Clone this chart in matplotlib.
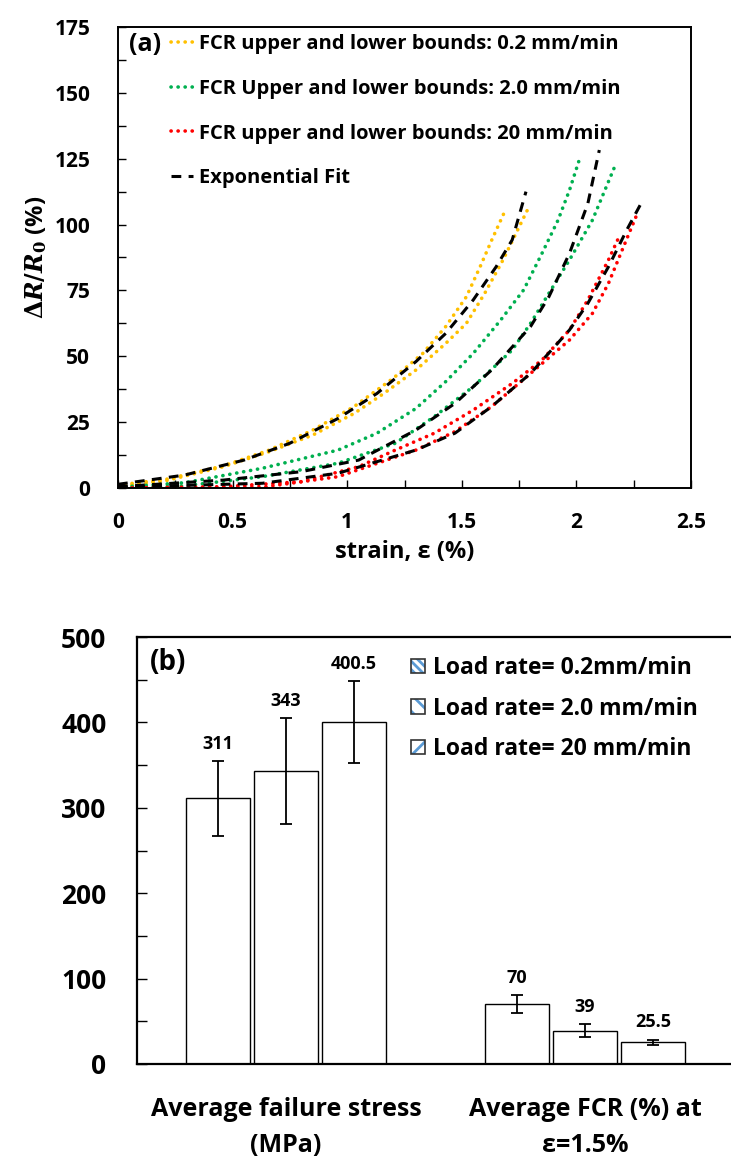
import matplotlib
matplotlib.use("Agg")
import matplotlib.pyplot as plt
from matplotlib.patches import Patch
from matplotlib.lines import Line2D
from matplotlib.legend_handler import HandlerTuple
from matplotlib.ticker import MultipleLocator

plt.rcParams['font.family'] = ['Open Sans', 'DejaVu Sans']
plt.rcParams['font.weight'] = 'bold'
plt.rcParams['mathtext.fontset'] = 'dejavuserif'
plt.rcParams['hatch.linewidth'] = 2.0

# ---------------- Panel (a) data: strain (%) vs dR/R0 (%) ----------------
y02_up_x = [0.0, 0.21, 0.46, 0.66, 0.85, 1.03, 1.20, 1.33, 1.43, 1.52, 1.58, 1.63, 1.69]
y02_up_y = [1.1, 3.3, 8.4, 14.4, 22.0, 30.9, 41.6, 51.1, 61.3, 72.6, 84.0, 94.0, 105.5]
y02_lo_x = [0.0, 0.21, 0.46, 0.66, 0.85, 1.03, 1.16, 1.30, 1.43, 1.52, 1.60, 1.68, 1.79]
y02_lo_y = [0.5, 2.8, 8.1, 13.8, 20.1, 28.3, 35.9, 44.8, 54.9, 62.5, 73.9, 86.6, 106.2]
fit02_x = [0.0, 0.29, 0.55, 0.75, 0.96, 1.13, 1.30, 1.43, 1.55, 1.65, 1.72, 1.78]
fit02_y = [1.4, 4.9, 10.6, 17.0, 26.4, 35.9, 48.0, 58.7, 71.4, 84.0, 94.2, 112.5]

g20_up_x = [0.0, 0.29, 0.63, 0.96, 1.13, 1.30, 1.43, 1.55, 1.67, 1.77, 1.85, 1.92, 1.97, 2.01]
g20_up_y = [0.3, 2.0, 7.5, 14.4, 20.8, 30.2, 40.4, 51.1, 63.8, 75.2, 89.1, 101.7, 113.1, 123.9]
g20_lo_x = [0.0, 0.29, 0.63, 0.96, 1.21, 1.38, 1.55, 1.72, 1.80, 1.88, 1.97, 2.07, 2.17]
g20_lo_y = [0.0, 0.8, 4.3, 9.4, 17.0, 27.1, 38.5, 52.4, 62.5, 73.9, 86.6, 101.7, 122.6]
fit20_x = [0.0, 0.46, 0.80, 1.05, 1.30, 1.47, 1.63, 1.80, 1.88, 1.97, 2.05, 2.10]
fit20_y = [0.5, 3.0, 6.2, 10.6, 22.0, 32.1, 44.8, 61.3, 72.6, 89.1, 108.0, 128.3]

r200_up_x = [0.0, 0.46, 0.80, 1.05, 1.21, 1.38, 1.55, 1.72, 1.85, 1.97, 2.05, 2.14, 2.18]
r200_up_y = [0.0, 0.5, 2.4, 8.1, 14.4, 20.8, 29.6, 39.7, 48.6, 60.0, 71.4, 86.6, 94.2]
r200_lo_x = [0.0, 0.63, 0.96, 1.30, 1.47, 1.63, 1.80, 1.97, 2.07, 2.14, 2.20, 2.26]
r200_lo_y = [0.0, 0.3, 4.3, 14.4, 21.4, 30.9, 43.5, 56.2, 66.3, 77.7, 90.4, 103.0]
fit200_x = [0.0, 0.63, 0.96, 1.30, 1.47, 1.63, 1.80, 1.97, 2.05, 2.14, 2.22, 2.29]
fit200_y = [0.3, 1.8, 5.6, 14.4, 20.8, 30.9, 43.5, 60.0, 70.1, 84.0, 98.0, 109.3]

legend_a = ['FCR upper and lower bounds: 0.2 mm/min',
            'FCR Upper and lower bounds: 2.0 mm/min',
            'FCR upper and lower bounds: 20 mm/min',
            'Exponential Fit']

# ---------------- Panel (b) data ----------------
categories = ['Average failure stress\n(MPa)', 'Average FCR (%) at\nε=1.5%']
rate_labels = ['Load rate= 0.2mm/min', 'Load rate= 2.0 mm/min', 'Load rate= 20 mm/min']
means_02 = [311, 70]
means_20 = [343, 39]
means_200 = [400.5, 25.5]
err_02 = [43.5, 10.5]
err_20 = [62, 7.5]
err_200 = [48, 3]
value_labels_02 = ['311', '70']
value_labels_20 = ['343', '39']
value_labels_200 = ['400.5', '25.5']

YEL = '#FFC000'
GRN = '#00B050'
RED = '#FF0000'

fig = plt.figure(figsize=(7.31, 11.65), dpi=100)

# ================= Panel (a) =================
ax1 = fig.add_axes([118/731, 1-488/1165, 573/731, 461/1165])
dot = dict(linestyle=(0, (0.05, 1.9)), lw=2.6, dash_capstyle='round')
dash = dict(linestyle=(0, (3.2, 2.4)), lw=2.2, color='black')

ax1.plot(y02_up_x, y02_up_y, color=YEL, **dot)
ax1.plot(y02_lo_x, y02_lo_y, color=YEL, **dot)
ax1.plot(g20_up_x, g20_up_y, color=GRN, **dot)
ax1.plot(g20_lo_x, g20_lo_y, color=GRN, **dot)
ax1.plot(r200_up_x, r200_up_y, color=RED, **dot)
ax1.plot(r200_lo_x, r200_lo_y, color=RED, **dot)
ax1.plot(fit02_x, fit02_y, **dash)
ax1.plot(fit20_x, fit20_y, **dash)
ax1.plot(fit200_x, fit200_y, **dash)

ax1.set_xlim(0, 2.5)
ax1.set_ylim(0, 175)
ax1.xaxis.set_major_locator(MultipleLocator(0.5))
ax1.xaxis.set_minor_locator(MultipleLocator(0.25))
ax1.yaxis.set_major_locator(MultipleLocator(25))
ax1.yaxis.set_minor_locator(MultipleLocator(12.5))
ax1.xaxis.set_major_formatter(matplotlib.ticker.FuncFormatter(lambda v, p: f'{v:g}'))
ax1.tick_params(axis='both', which='both', direction='in', length=6, width=1.0)
ax1.tick_params(axis='both', which='major', labelsize=15)
ax1.tick_params(axis='x', which='major', pad=17)
ax1.tick_params(axis='y', which='major', pad=20)
ax1.tick_params(right=False, top=False)
for s in ax1.spines.values():
    s.set_linewidth(1.4)

ax1.set_xlabel('strain, ε (%)', fontsize=17, fontweight='bold', labelpad=5)
ax1.set_ylabel(r'$\mathbf{\Delta}\mathbfit{R}/\mathbfit{R}_{\mathbf{0}}$ (%)',
               fontsize=17, fontweight='bold', labelpad=4)

handles_a = [Line2D([], [], color=YEL, **dot),
             Line2D([], [], color=GRN, **dot),
             Line2D([], [], color=RED, **dot),
             Line2D([], [], **dash)]
ax1.legend(handles_a, legend_a, loc='upper left', bbox_to_anchor=(0.092, 0.984),
           frameon=False, fontsize=14.5, handlelength=1.1, handletextpad=0.3,
           labelspacing=1.22, borderpad=0, borderaxespad=0)
ax1.text(0.047, 0.962, '(a)', transform=ax1.transAxes, fontsize=18,
         fontweight='bold', ha='center', va='center')

# ================= Panel (b) =================
ax2 = fig.add_axes([137/731, 1-1064/1165, (731-137)/731, 427/1165])
x = [0, 1]
off = 0.227
w = 0.214
ekw = dict(ecolor='black', elinewidth=1.3, capsize=4, capthick=1.3)
series = [(means_02, err_02, value_labels_02, -off),
          (means_20, err_20, value_labels_20, 0.0),
          (means_200, err_200, value_labels_200, off)]
for m, e, lab, o in series:
    xs = [xi + o for xi in x]
    ax2.bar(xs, m, width=w, color='white', edgecolor='black', linewidth=1.0,
            yerr=e, error_kw=ekw)
    for xi, mi, ei, li in zip(xs, m, e, lab):
        ax2.annotate(li, (xi, mi + ei), xytext=(0, 6), textcoords='offset points',
                     ha='center', va='bottom', fontsize=13, fontweight='bold')

ax2.set_xlim(-149/299, (594-149)/299)
ax2.set_ylim(0, 500)
ax2.set_xticks(x)
ax2.set_xticklabels(categories, fontsize=18, fontweight='bold', linespacing=1.55)
ax2.yaxis.set_major_locator(MultipleLocator(100))
ax2.yaxis.set_minor_locator(MultipleLocator(50))
ax2.tick_params(axis='y', which='both', direction='in', length=7, width=1.0)
ax2.tick_params(axis='y', which='major', labelsize=19, pad=22)
ax2.tick_params(axis='x', length=0, pad=24)
ax2.spines['right'].set_visible(False)
for s in ['left', 'top', 'bottom']:
    ax2.spines[s].set_linewidth(1.6)

HB = '#5B9BD5'
handles_b = [(Patch(facecolor='white', edgecolor=HB, hatch='\\\\\\\\', lw=0),
              Patch(facecolor='none', edgecolor='#333333', lw=1.2)),
             (Patch(facecolor='white', edgecolor=HB, hatch='\\\\', lw=0),
              Patch(facecolor='none', edgecolor='#333333', lw=1.2)),
             (Patch(facecolor='white', edgecolor=HB, hatch='/', lw=0),
              Patch(facecolor='none', edgecolor='#333333', lw=1.2))]
leg = ax2.legend(handles_b, rate_labels, handler_map={tuple: HandlerTuple(ndivide=1, pad=0)},
                 loc='upper left', bbox_to_anchor=(0.462, 0.955), frameon=False,
                 fontsize=16.5, handlelength=0.6, handleheight=0.6, handletextpad=0.35,
                 labelspacing=0.72, borderpad=0, borderaxespad=0)
ax2.text((168-137)/594, (1064-662)/427, '(b)', transform=ax2.transAxes, fontsize=20,
         fontweight='bold', ha='center', va='center')

fig.savefig('out.png', dpi=100)
